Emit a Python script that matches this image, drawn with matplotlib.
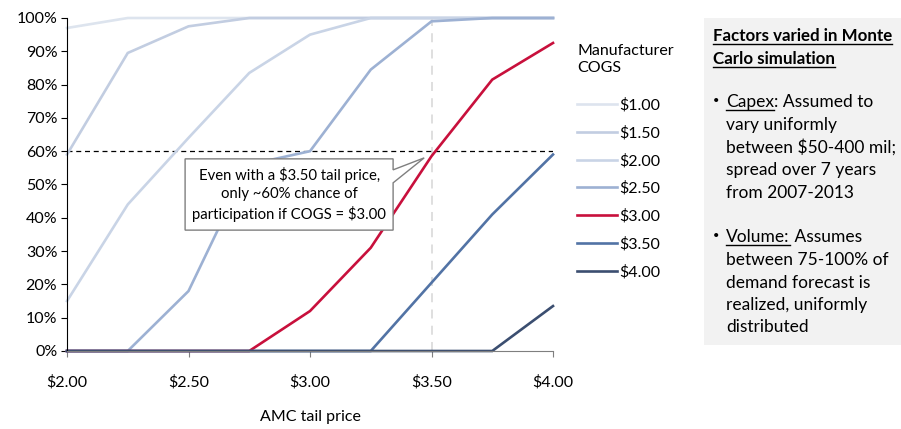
import matplotlib.pyplot as plt
from matplotlib.patches import Polygon, Rectangle
from matplotlib.lines import Line2D
from matplotlib.ticker import FuncFormatter

plt.rcParams['font.family'] = ['Lato', 'DejaVu Sans']

# probability of participation (%) by AMC tail price, one series per manufacturer COGS
tail_price = [2.00, 2.25, 2.50, 2.75, 3.00, 3.25, 3.50, 3.75, 4.00]
cogs_labels = ['$1.00', '$1.50', '$2.00', '$2.50', '$3.00', '$3.50', '$4.00']
p_100 = [97, 100, 100, 100, 100, 100, 100, 100, 100]
p_150 = [59, 89.5, 97.5, 100, 100, 100, 100, 100, 100]
p_200 = [15, 44, 64, 83.5, 95, 100, 100, 100, 100]
p_250 = [0, 0, 18, 56, 60, 84.5, 99, 100, 100]
p_300 = [0, 0, 0, 0, 12, 31, 58.5, 81.5, 92.5]
p_350 = [0, 0, 0, 0, 0, 0, 20.5, 41, 59]
p_400 = [0, 0, 0, 0, 0, 0, 0, 0, 13.5]
series = [p_100, p_150, p_200, p_250, p_300, p_350, p_400]
colors = ['#dde4ee', '#c2cde1', '#c9d4e6', '#9db1d3', '#c8103c', '#5273a5', '#3b4e70']

fig = plt.figure(figsize=(9.01, 4.29), dpi=100)
ax = fig.add_axes([67/901, 78/429, 486/901, 333/429])

for vals, lab, c in zip(series, cogs_labels, colors):
    ax.plot(tail_price, vals, color=c, lw=1.9, label=lab, solid_joinstyle='miter', clip_on=False)

ax.axhline(60, color='black', lw=0.9, ls=(0, (4, 3)), zorder=1)
ax.axvline(3.5, color='#dcdcdc', lw=1.3, ls=(0, (5, 4)), zorder=0.5)

ax.set_xlim(2, 4)
ax.set_ylim(0, 100)
ax.set_xticks([2.0, 2.5, 3.0, 3.5, 4.0])
ax.set_yticks(range(0, 101, 10))
ax.xaxis.set_major_formatter(FuncFormatter(lambda v, p: f'${v:.2f}'))
ax.yaxis.set_major_formatter(FuncFormatter(lambda v, p: f'{v:.0f}%'))
for s in ['top', 'right']:
    ax.spines[s].set_visible(False)
ax.spines['left'].set_color('black')
ax.spines['bottom'].set_color('#7f7f7f')
ax.tick_params(axis='y', length=4, color='black', labelsize=11.5, pad=3)
ax.tick_params(axis='x', length=4, color='#7f7f7f', labelsize=11.5, pad=13)
ax.set_xlabel('AMC tail price', fontsize=11.5, labelpad=15)

# callout box with pointer
bl, br, bb, bt = 0.243, 0.671, 0.363, 0.577
tip = ((3.47 - 2) / 2, 0.58)
callout = Polygon([(bl, bb), (br, bb), (br, 0.505), tip, (br, 0.544), (br, bt), (bl, bt)],
                  closed=True, transform=ax.transAxes, facecolor='white',
                  edgecolor='#7f7f7f', lw=1.0, zorder=5)
ax.add_patch(callout)
ax.text((bl + br) / 2, (bb + bt) / 2,
        'Even with a $3.50 tail price,\nonly ~60% chance of\nparticipation if COGS = $3.00',
        transform=ax.transAxes, ha='center', va='center', fontsize=10.7,
        linespacing=1.35, zorder=6)

leg = fig.legend(loc='upper left', bbox_to_anchor=(563/901, 1 - 30/429), frameon=False,
                 title='Manufacturer\nCOGS', alignment='left', fontsize=11.5,
                 title_fontsize=11.5, handlelength=2.5, handletextpad=0.15,
                 labelspacing=0.83)
leg._legend_box.sep = 17

# side panel with simulation notes
fig.patches.append(Rectangle((704/901, 84/429), 197/901, 327/429, transform=fig.transFigure,
                             facecolor='#f2f2f2', edgecolor='none'))

fig.canvas.draw()
renderer = fig.canvas.get_renderer()
inv = fig.transFigure.inverted()


def run(x, y, parts, size=12.5):
    # draw consecutive text pieces on one line; parts = (text, bold, underline)
    for txt, bold, under in parts:
        t = fig.text(x, y, txt, fontsize=size, fontweight='bold' if bold else 'normal',
                     va='baseline', ha='left')
        bb = t.get_window_extent(renderer)
        w = inv.transform((bb.x1, 0))[0] - inv.transform((bb.x0, 0))[0]
        if under:
            uy = y - 3/429
            fig.lines.append(Line2D([x, x + w], [uy, uy], transform=fig.transFigure,
                                    color='black', lw=1.0))
        x += w


px = lambda v: v / 901
py = lambda v: 1 - v / 429
run(px(713), py(41), [('Factors varied in Monte', True, True)], size=12.2)
run(px(713), py(64), [('Carlo simulation', True, True)], size=12.2)

fig.text(px(713), py(104), '•', fontsize=8, va='baseline')
run(px(726), py(107), [('Capex', False, True), (': Assumed to', False, False)])
for i, line in enumerate(['vary uniformly', 'between $50-400 mil;', 'spread over 7 years',
                          'from 2007-2013']):
    run(px(726), py(130 + 22.5 * i), [(line, False, False)])

fig.text(px(713), py(239), '•', fontsize=8, va='baseline')
run(px(726), py(242), [('Volume:', False, True), (' Assumes', False, False)])
for i, line in enumerate(['between 75-100% of', 'demand forecast is', 'realized, uniformly',
                          'distributed']):
    run(px(726), py(265 + 22.5 * i), [(line, False, False)])

fig.savefig('out.png', dpi=100)
